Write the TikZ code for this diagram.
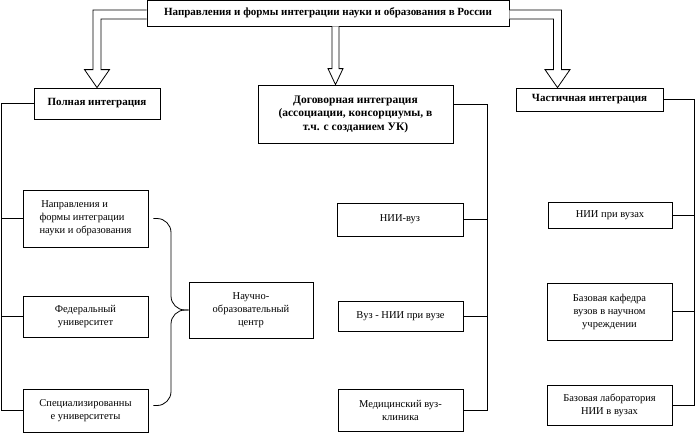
\documentclass[tikz,border=0pt]{standalone}
\usepackage{fontspec}
\setmainfont{Liberation Serif}
\usetikzlibrary{calc,positioning}

\begin{document}
\begin{tikzpicture}[x=1pt,y=1pt,line width=0.8pt,
box/.style={draw,align=center,inner sep=2pt,font=\fontsize{10.5}{13}\selectfont},
head/.style={box,font=\fontsize{11}{13.5}\selectfont\bfseries},
hollow/.style={draw,fill=white,line join=miter},
brace/.style={draw,rounded corners=14pt}]
\useasboundingbox (0,0) rectangle (696,-432);
% title and the three kinds of integration
\node[head,minimum width=362pt,minimum height=26pt] (top) at (328,-13) {Направления и формы интеграции науки и образования в России};
\node[head,minimum width=126pt,minimum height=31pt] (pol) at (97,-103.5) {Полная интеграция};
\node[head,font=\fontsize{11.5}{13.5}\selectfont\bfseries,minimum width=195pt,minimum height=58pt] (dog) at (355.5,-114) {Договорная интеграция\\(ассоциации, консорциумы, в\\т.ч. с созданием УК)};
\node[head,minimum width=147pt,minimum height=23pt] (chast) at (589.5,-99.5) {Частичная интеграция};
% left column
\node[box,align=left,minimum width=125pt,minimum height=57pt] (l1) at (85.5,-218.5) {\,Направления и\\формы интеграции\\науки и образования};
\node[box,minimum width=125pt,minimum height=41pt] (l2) at (85.5,-316.5) {Федеральный\\университет};
\node[box,minimum width=125pt,minimum height=43pt] (l3) at (85.5,-410.5) {Специализированны\\е университеты};
\node[box,minimum width=124pt,minimum height=56pt] (noc) at (251,-310) {Научно-\\образовательный\\центр};
% middle column
\node[box,minimum width=126pt,minimum height=33pt] (m1) at (400,-219.5) {НИИ-вуз};
\node[box,minimum width=125pt,minimum height=30pt] (m2) at (400.5,-316) {Вуз - НИИ при вузе};
\node[box,minimum width=125pt,minimum height=42pt] (m3) at (400.5,-410) {Медицинский вуз-\\клиника};
% right column
\node[box,minimum width=124pt,minimum height=26pt] (r1) at (610,-215) {НИИ при вузах};
\node[box,minimum width=125pt,minimum height=57pt] (r2) at (609.5,-311.5) {Базовая кафедра\\вузов в научном\\учреждении};
\node[box,minimum width=125pt,minimum height=40pt] (r3) at (609.5,-405) {Базовая лаборатория\\НИИ в вузах};
% hollow arrows
\path (top.south) ++(7.5,0) coordinate (cx);
\path (chast.north) ++(-32,0) coordinate (rtip);
\draw[hollow] ([yshift=3pt]top.west) -| ($(pol.north)+(-4,18)$) -- ++(-8.5,0) -- (pol.north) -- ($(pol.north)+(12.5,18)$) -- ++(-8.5,0) |- ([yshift=-6pt]top.west);
\draw[hollow] ([xshift=-3.5pt]cx) -- ($(cx |- dog.north)+(-3.5,16)$) -- ++(-4,0) -- (cx |- dog.north) -- ++(7.5,16) -- ++(-4,0) -- ([xshift=3.5pt]cx);
\draw[hollow] ([yshift=3pt]top.east) -| ($(rtip)+(4,18)$) -- ++(8.5,0) -- (rtip) -- ($(rtip)+(-12.5,18)$) -- ++(8.5,0) |- ([yshift=-6pt]top.east);
% buses
\coordinate (lbus) at (1,0);
\coordinate (mbus) at (487,0);
\coordinate (rbus) at (694.5,0);
\draw (pol.west) -| (lbus |- l3.west) -- (l3.west);
\foreach \n in {l1,l2} \draw (\n.west) -- (\n.west -| lbus);
\draw ([yshift=10pt]dog.east) -| (mbus |- m3.east) -- (m3.east);
\foreach \n in {m1,m2} \draw (\n.east) -- (\n.east -| mbus);
\draw (chast.east) -| (rbus |- r3.east) -- (r3.east);
\foreach \n in {r1,r2} \draw (\n.east) -- (\n.east -| rbus);
% brace to the centre
\coordinate (bx) at (171,0);
\draw[brace] ([xshift=5pt]l1.east) -| (bx |- noc.west) -- (noc.west);
\draw[brace] ([xshift=5pt,yshift=5pt]l3.east) -| (bx |- noc.west) -- (noc.west);
\end{tikzpicture}
\end{document}
